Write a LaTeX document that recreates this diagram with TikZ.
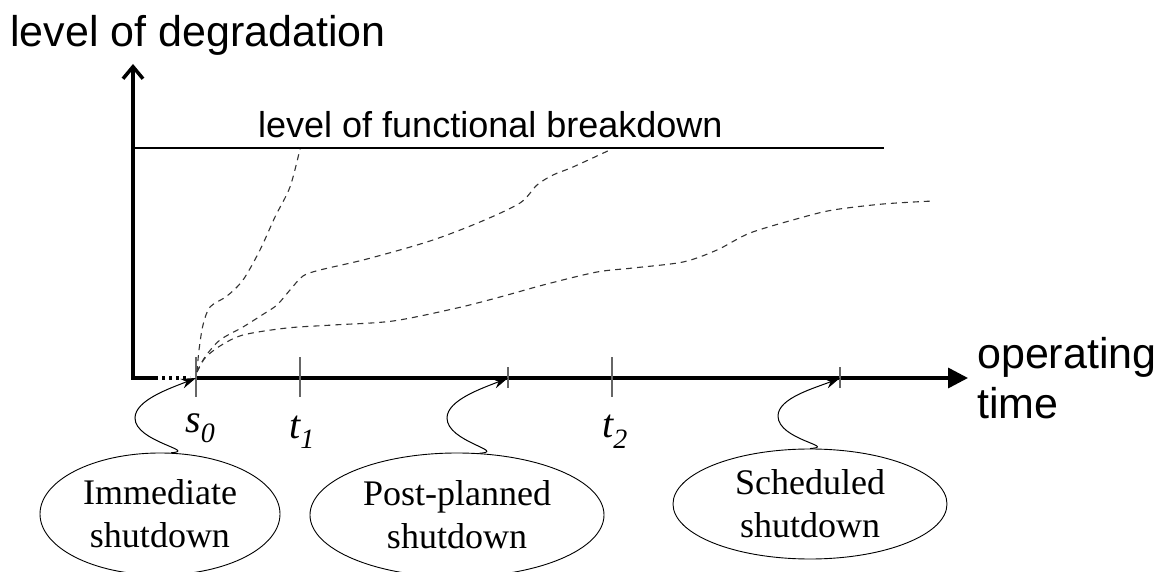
\documentclass[tikz,border=0pt]{standalone}
\usepackage{fontspec}
\setmainfont{Liberation Serif}
\newfontfamily\arialf{Liberation Sans}
\usetikzlibrary{arrows.meta,shapes.geometric,calc}
\begin{document}
\begin{tikzpicture}[x=1pt,y=-1pt,
  axisline/.style={line width=3.5pt,black,line join=miter},
  tickline/.style={line width=1.5pt,black!60},
  degr/.style={line width=1.1pt,black!80,dash pattern=on 6pt off 5pt},
  wavy/.style={line width=1pt,-{Stealth[length=15pt,width=10pt]}},
  shut/.style={ellipse,draw,line width=0.9pt,align=center,inner sep=0pt,font=\fontsize{36}{43}\selectfont},
  sanslab/.style={font=\arialf\fontsize{43}{50}\selectfont,inner sep=0pt,anchor=base west},
  ticklab/.style={font=\fontsize{40}{40}\selectfont\itshape,inner sep=0pt,anchor=base west}]
\useasboundingbox (0,0) rectangle (1163,572);

% axes
\draw[axisline,{Straight Barb[length=12pt,width=20pt]}-] (133,64) -- (133,378) -- (155,378);
\draw[axisline,dash pattern=on 3pt off 4pt] (155,378) -- (190,378);
\coordinate (s0) at (196,378);
\coordinate (p1) at (508,378);
\coordinate (p2) at (840,378);
\draw[axisline,-{Triangle[length=20pt,width=20pt]}] (s0) -- (968,378);

% labels of axes
\node[sanslab] (ylab) at (10,47) {level of degradation};
\node[sanslab] (xlab1) at (977,368) {operating};
\node[sanslab] (xlab2) at (977,418) {time};

% breakdown level
\draw[line width=1.5pt] (133,148) -- (884,148);
\node[font=\arialf\fontsize{36}{36}\selectfont,inner sep=0pt,anchor=base west] (bd) at (258,138) {level of functional breakdown};

% ticks
\draw[tickline] (196,357) -- (196,397);
\draw[tickline] (300,357) -- (300,397);
\draw[tickline] (612,357) -- (612,397);
\draw[tickline] (508,367) -- (508,388);
\draw[tickline] (840,367) -- (840,388);

% tick labels
\node[ticklab] (ls0) at (185,432) {s\raisebox{-10pt}{\fontsize{28}{28}\selectfont 0}};
\node[ticklab] (lt1) at (289,438) {t\raisebox{-10pt}{\fontsize{28}{28}\selectfont 1}};
\node[ticklab] (lt2) at (602,437) {t\raisebox{-11pt}{\fontsize{28}{28}\selectfont 2}};

% degradation curves
\draw[degr] plot[smooth,tension=0.5] coordinates {(197,372) (199,350) (203,325) (210,307) (227,296) (243,280) (260,250) (275,217) (290,187) (300,149)};
\draw[degr] plot[smooth,tension=0.5] coordinates {(197,372) (205,357) (220,340) (243,327) (262,315) (277,305) (290,290) (303,276) (320,270) (367,259) (430,241) (480,222) (520,203) (537,185) (553,175) (573,167) (612,149)};
\draw[degr] plot[smooth,tension=0.5] coordinates {(197,372) (205,358) (220,346) (243,335) (287,328) (333,325) (393,321) (457,308) (500,297) (547,284) (597,272) (633,268) (683,262) (717,250) (750,233) (800,218) (833,210) (883,204) (933,201)};

% shutdown ellipses
\node[shut,minimum width=240pt,minimum height=122pt] (e1) at (160,514) {Immediate\\shutdown};
\node[shut,minimum width=294pt,minimum height=124pt] (e2) at (457,515) {Post-planned\\shutdown};
\node[shut,minimum width=274pt,minimum height=110pt] (e3) at (810,504) {Scheduled\\shutdown};

% wavy arrows
\draw[wavy] (e1.80) .. controls +(28,-2) and +(0,24) .. ($(s0)+(-61,40)$) .. controls +(0,-18) and +(-25,10) .. (s0);
\draw[wavy] (e2.70) .. controls +(28,-2) and +(0,24) .. ($(p1)+(-61,40)$) .. controls +(0,-18) and +(-25,10) .. (p1);
\draw[wavy] (e3.north) .. controls +(28,-2) and +(0,24) .. ($(p2)+(-62,38)$) .. controls +(0,-18) and +(-25,10) .. (p2);
\end{tikzpicture}
\end{document}
